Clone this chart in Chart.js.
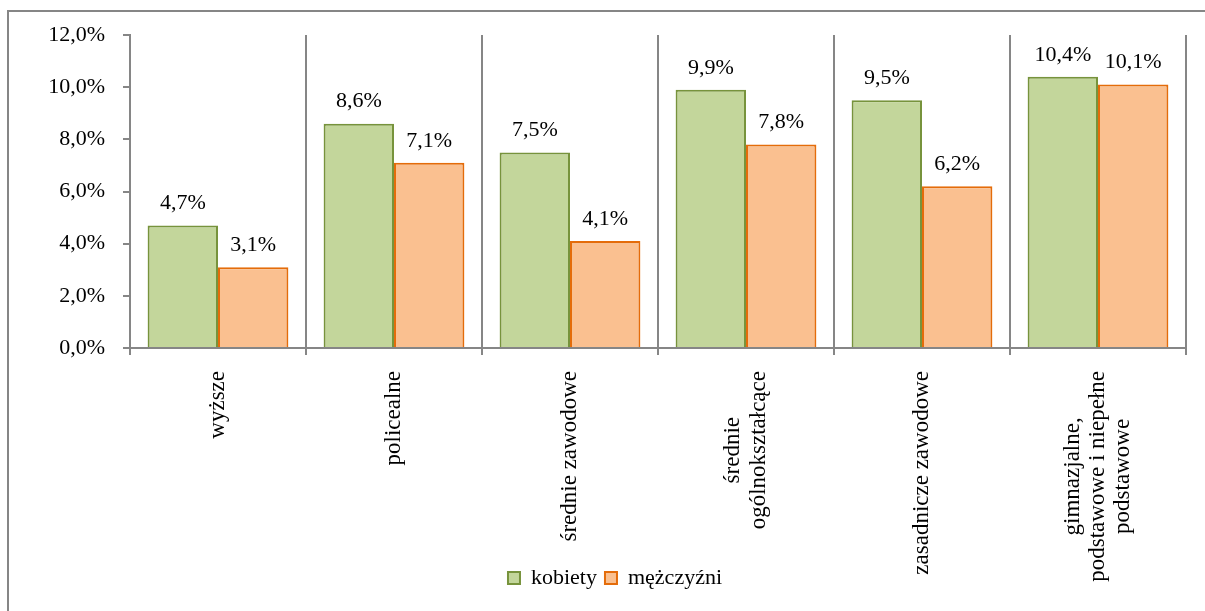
<!DOCTYPE html>
<html>
<head>
<meta charset="utf-8">
<script src="https://cdn.jsdelivr.net/npm/chart.js@4.4.1/dist/chart.umd.min.js"></script>
<style>
  html, body { margin: 0; padding: 0; background: #ffffff; }
  #wrap { width: 1205px; height: 611px; position: relative; }
</style>
</head>
<body>
<div id="wrap"><canvas id="c" width="1205" height="611"></canvas></div>
<script>
// ---- data ----
const categories = [
  ["wyższe"],
  ["policealne"],
  ["średnie zawodowe"],
  ["średnie", "ogólnokształcące"],
  ["zasadnicze zawodowe"],
  ["gimnazjalne,", "podstawowe i niepełne", "podstawowe"]
];
const seriesNames = ["kobiety", "mężczyźni"];
const kobiety = [4.7, 8.6, 7.5, 9.9, 9.5, 10.4];
const mezczyzni = [3.1, 7.1, 4.1, 7.8, 6.2, 10.1];
const yTicks = [0, 2, 4, 6, 8, 10, 12];

const fmt = v => v.toFixed(1).replace('.', ',') + '%';
const GRID = '#868686';
const NUM_FONT = { family: 'Liberation Serif', size: 22 };
const CAT_FONT = { family: 'Liberation Serif', size: 23, lineHeight: 1.1 };

// outer frame (top + left edges visible)
const framePlugin = {
  id: 'frame',
  beforeDraw(chart) {
    const ctx = chart.ctx;
    ctx.save();
    ctx.strokeStyle = GRID;
    ctx.lineWidth = 2;
    ctx.beginPath();
    ctx.moveTo(8, 611);
    ctx.lineTo(8, 11);
    ctx.lineTo(1205, 11);
    ctx.stroke();
    ctx.restore();
  }
};

// let category labels run into the legend band (as in the original) and
// center multi-line rotated labels
const centerLabelsPlugin = {
  id: 'centerLabels',
  afterLayout(chart) {
    chart.scales.x.bottom = chart.height;
  },
  beforeDraw(chart) {
    const scale = chart.scales.x;
    const items = scale.getLabelItems(chart.chartArea);
    const ctx = chart.ctx;
    items.forEach(item => {
      if (item._centered) return;
      const lines = Array.isArray(item.label) ? item.label : [item.label];
      ctx.save();
      ctx.font = item.font.string;
      const maxW = Math.max(...lines.map(l => ctx.measureText(l).width));
      ctx.restore();
      item.options.textAlign = 'center';
      item.options.translation[1] += maxW / 2;
      item.options.translation[0] -= (lines.length - 1) * item.font.lineHeight / 2;
      item._centered = true;
    });
  }
};

// value labels above bars
const valueLabelsPlugin = {
  id: 'valueLabels',
  afterDatasetsDraw(chart) {
    const ctx = chart.ctx;
    ctx.save();
    ctx.font = NUM_FONT.size + 'px "' + NUM_FONT.family + '"';
    ctx.fillStyle = '#000';
    ctx.textAlign = 'center';
    ctx.textBaseline = 'middle';
    chart.data.datasets.forEach((ds, di) => {
      const meta = chart.getDatasetMeta(di);
      meta.data.forEach((bar, i) => {
        ctx.fillText(fmt(ds.data[i]), bar.x, bar.y - 22);
      });
    });
    ctx.restore();
  }
};

new Chart(document.getElementById('c'), {
  type: 'bar',
  data: {
    labels: categories,
    datasets: [
      {
        label: seriesNames[0],
        data: kobiety,
        backgroundColor: '#c3d69b',
        borderColor: '#77933c',
        borderWidth: 2,
        categoryPercentage: 0.8,
        barPercentage: 1.0
      },
      {
        label: seriesNames[1],
        data: mezczyzni,
        backgroundColor: '#fac090',
        borderColor: '#e46c0a',
        borderWidth: 2,
        categoryPercentage: 0.8,
        barPercentage: 1.0
      }
    ]
  },
  options: {
    responsive: false,
    animation: false,
    layout: { padding: { top: 35, left: 44, right: 19, bottom: 12 } },
    plugins: {
      legend: {
        position: 'bottom',
        labels: {
          boxWidth: 12,
          boxHeight: 12,
          padding: 8,
          color: '#000',
          font: NUM_FONT
        }
      },
      tooltip: { enabled: false },
      title: { display: false }
    },
    scales: {
      x: {
        grid: {
          display: true,
          offset: true,
          drawOnChartArea: true,
          drawTicks: true,
          tickLength: 7,
          color: GRID,
          lineWidth: 2
        },
        border: { display: true, color: GRID, width: 2 },
        ticks: {
          color: '#000',
          font: CAT_FONT,
          maxRotation: 90,
          minRotation: 90,
          padding: 16,
          autoSkip: false
        },
        afterFit(scale) { scale.height = 211; }
      },
      y: {
        min: 0,
        max: 12,
        afterBuildTicks(scale) { scale.ticks = yTicks.map(v => ({ value: v })); },
        grid: {
          display: true,
          drawOnChartArea: false,
          drawTicks: true,
          tickLength: 7,
          color: GRID,
          lineWidth: 2
        },
        border: { display: true, color: GRID, width: 2 },
        ticks: {
          color: '#000',
          font: NUM_FONT,
          padding: 18,
          callback: v => fmt(v)
        },
        afterFit(scale) { scale.width = 86; }
      }
    }
  },
  plugins: [framePlugin, centerLabelsPlugin, valueLabelsPlugin]
});
</script>
</body>
</html>
